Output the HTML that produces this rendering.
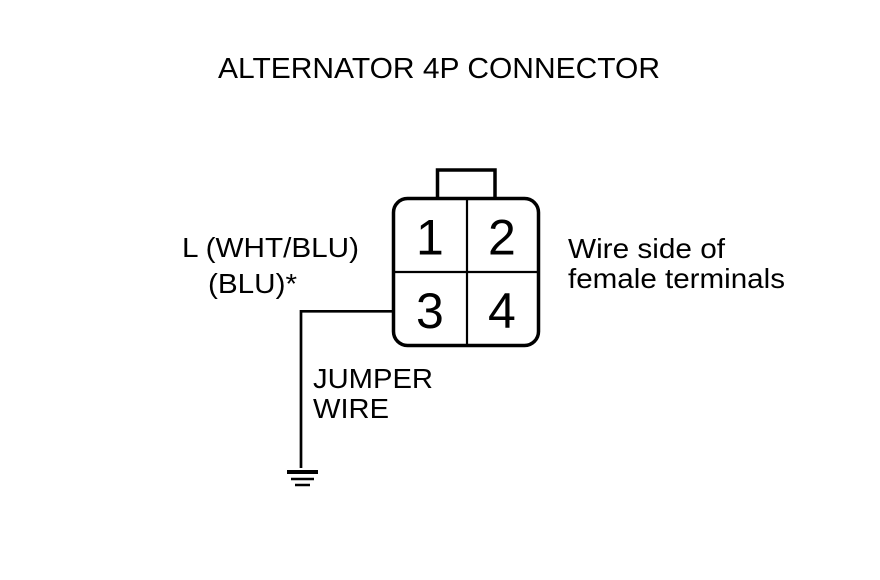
<!DOCTYPE html>
<html>
<head>
<meta charset="utf-8">
<style>
html,body{margin:0;padding:0;background:#fff;}
svg{display:block;}
text{font-family:"Liberation Sans",Arial,sans-serif;fill:#000;}
</style>
</head>
<body>
<svg width="880" height="580" viewBox="0 0 880 580" xmlns="http://www.w3.org/2000/svg">
<rect width="880" height="580" fill="#fff"/>
<text x="218" y="78" font-size="28.5" textLength="442" lengthAdjust="spacingAndGlyphs">ALTERNATOR 4P CONNECTOR</text>
<rect x="393.500" y="198.500" width="145" height="147" rx="14" ry="14" fill="none" stroke="#000" stroke-width="3.500"/>
<path d="M437.500 199V170H495V199" fill="none" stroke="#000" stroke-width="3.500"/>
<path d="M467 199V346M393 272H539" stroke="#000" stroke-width="2.200" fill="none"/>
<path d="M393 311.300H301V468" stroke="#000" stroke-width="2.700" fill="none"/>
<path d="M287 472H318" stroke="#000" stroke-width="4"/>
<path d="M291 479H314" stroke="#000" stroke-width="2.500"/>
<path d="M295 485H310" stroke="#000" stroke-width="2.500"/>
<text x="416" y="254.500" font-size="50">1</text>
<text x="488" y="254.500" font-size="50">2</text>
<text x="416" y="328" font-size="50">3</text>
<text x="488" y="328" font-size="50">4</text>
<text x="182" y="257" font-size="27.500" textLength="177" lengthAdjust="spacingAndGlyphs">L (WHT/BLU)</text>
<text x="208" y="293" font-size="27.500" textLength="89" lengthAdjust="spacingAndGlyphs">(BLU)*</text>
<text x="568" y="258" font-size="27.500" textLength="157" lengthAdjust="spacingAndGlyphs">Wire side of</text>
<text x="568" y="288" font-size="27.500" textLength="217" lengthAdjust="spacingAndGlyphs">female terminals</text>
<text x="313" y="388" font-size="27.500" textLength="120" lengthAdjust="spacingAndGlyphs">JUMPER</text>
<text x="313" y="418" font-size="27.500" textLength="76" lengthAdjust="spacingAndGlyphs">WIRE</text>
</svg>
</body>
</html>
